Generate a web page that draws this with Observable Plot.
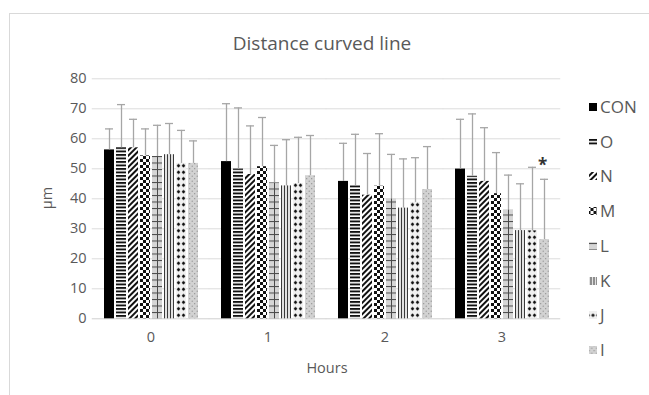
<!DOCTYPE html>
<html>
<head>
<meta charset="utf-8">
<script src="https://cdn.jsdelivr.net/npm/d3@7"></script>
<script src="https://cdn.jsdelivr.net/npm/@observablehq/plot@0.6"></script>
<style>
html,body{margin:0;padding:0;background:#fff;overflow:hidden}
#chart{position:relative;width:649px;height:395px;font-family:"Open Sans",sans-serif;color:#595959;overflow:hidden}
#frame{position:absolute;left:9px;top:13px;width:720px;height:420px;border:1px solid #d9d9d9;box-sizing:border-box}
#plot{position:absolute;left:0;top:0}
.lbl{position:absolute;white-space:nowrap;transform:translate(-50%,-50%)}
#title{left:322px;top:43px;font-size:19px}
#xlabel{left:327px;top:367px;font-size:14.5px}
#ylabel{left:46px;top:198px;font-size:14.5px;transform:translate(-50%,-50%) rotate(-90deg)}
.leg{position:absolute;left:589px;display:flex;align-items:center;font-size:17px;line-height:22px;transform:translateY(-50%)}
.leg svg{margin-right:3px}
</style>
</head>
<body>
<svg width="0" height="0" style="position:absolute">
  <defs>
    <pattern id="p-CON" patternUnits="userSpaceOnUse" width="4" height="4"><rect width="4" height="4" fill="#000"/></pattern>
    <pattern id="p-O" patternUnits="userSpaceOnUse" width="4" height="3.5"><rect width="4" height="3.5" fill="#fff"/><rect width="4" height="1.9" fill="#111"/></pattern>
    <pattern id="p-N" patternUnits="userSpaceOnUse" width="4" height="4" patternTransform="rotate(45)"><rect width="4" height="4" fill="#fff"/><rect width="2" height="4" fill="#111"/></pattern>
    <pattern id="p-M" patternUnits="userSpaceOnUse" width="6" height="6"><rect width="6" height="6" fill="#fff"/><rect width="3" height="3" fill="#111"/><rect x="3" y="3" width="3" height="3" fill="#111"/></pattern>
    <pattern id="p-L" patternUnits="userSpaceOnUse" width="6" height="6.5"><rect width="6" height="6.5" fill="#d6d6d6"/><rect width="6" height="1" fill="#4a4a4a"/></pattern>
    <pattern id="p-K" patternUnits="userSpaceOnUse" width="3" height="4"><rect width="3" height="4" fill="#e2e2e2"/><rect width="1" height="4" fill="#3a3a3a"/></pattern>
    <pattern id="p-J" patternUnits="userSpaceOnUse" width="5" height="6.5"><rect width="5" height="6.5" fill="#f0f0f0"/><polygon points="2.5,1.3 4.4,3.25 2.5,5.2 0.6,3.25" fill="#111"/></pattern>
    <pattern id="p-I" patternUnits="userSpaceOnUse" width="5" height="5"><rect width="5" height="5" fill="#d2d2d2"/><circle cx="1.2" cy="1.2" r="0.6" fill="#8a8a8a"/><circle cx="3.7" cy="3.7" r="0.6" fill="#8a8a8a"/></pattern>
  </defs>
</svg>
<div id="chart">
  <div id="frame"></div>
  <div id="plot"></div>
  <div id="title" class="lbl">Distance curved line</div>
  <div id="xlabel" class="lbl">Hours</div>
  <div id="ylabel" class="lbl">µm</div>
</div>
<script>
// ---- data ----
const hours = ["0", "1", "2", "3"];
const series = ["CON", "O", "N", "M", "L", "K", "J", "I"];
const yTicks = [0, 10, 20, 30, 40, 50, 60, 70, 80];

// mean values per series (hours 0,1,2,3)
const meanCON = [56.3, 52.4, 45.8, 49.9];
const meanO   = [57.0, 49.9, 44.4, 47.5];
const meanN   = [57.0, 48.1, 41.2, 45.8];
const meanM   = [54.3, 50.7, 44.2, 41.7];
const meanL   = [54.1, 45.3, 40.0, 36.3];
const meanK   = [54.7, 44.3, 36.9, 29.4];
const meanJ   = [51.8, 45.1, 38.8, 29.3];
const meanI   = [51.8, 47.7, 43.1, 26.4];

// standard deviations (upper error bars)
const sdCON = [7.0, 19.3, 12.7, 16.6];
const sdO   = [14.4, 20.4, 17.1, 20.8];
const sdN   = [9.5, 16.2, 13.9, 17.9];
const sdM   = [9.0, 16.4, 17.5, 13.7];
const sdL   = [10.4, 12.5, 14.8, 11.6];
const sdK   = [10.4, 15.4, 16.4, 15.6];
const sdJ   = [11.0, 15.4, 14.9, 21.2];
const sdI   = [7.5, 13.4, 14.3, 20.1];

// significance markers
const starHours = ["3"];
const starSeries = ["I"];

const meanArrays = [meanCON, meanO, meanN, meanM, meanL, meanK, meanJ, meanI];
const sdArrays = [sdCON, sdO, sdN, sdM, sdL, sdK, sdJ, sdI];

const rows = [];
hours.forEach((h, i) => series.forEach((s, j) => {
  rows.push({hour: h, series: s, mean: meanArrays[j][i], sd: sdArrays[j][i]});
}));
const isStar = d => starHours.some((h, k) => h === d.hour && starSeries[k] === d.series);

const plot = Plot.plot({
  width: 649,
  height: 395,
  marginTop: 78.3,
  marginBottom: 76.7,
  marginLeft: 91,
  marginRight: 88,
  style: {fontFamily: '"Open Sans", sans-serif', fontSize: "14.5px", color: "#595959", background: "transparent", overflow: "visible"},
  facet: {data: rows, x: "hour"},
  fx: {domain: hours, paddingInner: 0.174, paddingOuter: 0.087, label: null, tickSize: 0, tickPadding: 13},
  x: {domain: series, paddingInner: 0.17, paddingOuter: 0, axis: null},
  y: {domain: [0, 80], ticks: yTicks, tickSize: 0, tickPadding: 16, label: null},
  color: {type: "identity"},
  marks: [
    Plot.ruleY(yTicks.filter(t => t > 0), {stroke: "#dcdcdc", insetLeft: -10.25, insetRight: -10.25}),
    Plot.ruleY([0], {stroke: "#cfcfcf", insetLeft: -10.25, insetRight: -10.25}),
    Plot.barY(rows, {x: "series", y: "mean", fill: d => `url(#p-${d.series})`}),
    Plot.ruleX(rows, {filter: d => d.series === "L", x: "series", y1: 0, y2: "mean", stroke: "#4a4a4a", strokeWidth: 1}),
    Plot.ruleX(rows, {x: "series", y1: "mean", y2: d => d.mean + d.sd, stroke: "#a6a6a6", strokeWidth: 1.3}),
    Plot.tickY(rows, {x: "series", y: d => d.mean + d.sd, stroke: "#a6a6a6", strokeWidth: 1.3, insetLeft: 1, insetRight: 1}),
    Plot.text(rows, {filter: isStar, x: "series", y: d => d.mean + d.sd, text: () => "*", fontSize: 17, fontWeight: "bold", fill: "#333", dy: -13.5, dx: -2})
  ]
});
document.getElementById("plot").appendChild(plot);

// legend
const chart = document.getElementById("chart");
const legendY0 = 107, legendStep = 34.7;
series.forEach((s, i) => {
  const item = document.createElement("div");
  item.className = "leg";
  item.style.top = (legendY0 + i * legendStep) + "px";
  item.innerHTML = `<svg width="8" height="8"><g transform="translate(1.5,1)"><rect x="-1.5" y="-1" width="8" height="8" fill="url(#p-${s})"/></g></svg><span>${s}</span>`;
  chart.appendChild(item);
});
</script>
</body>
</html>
